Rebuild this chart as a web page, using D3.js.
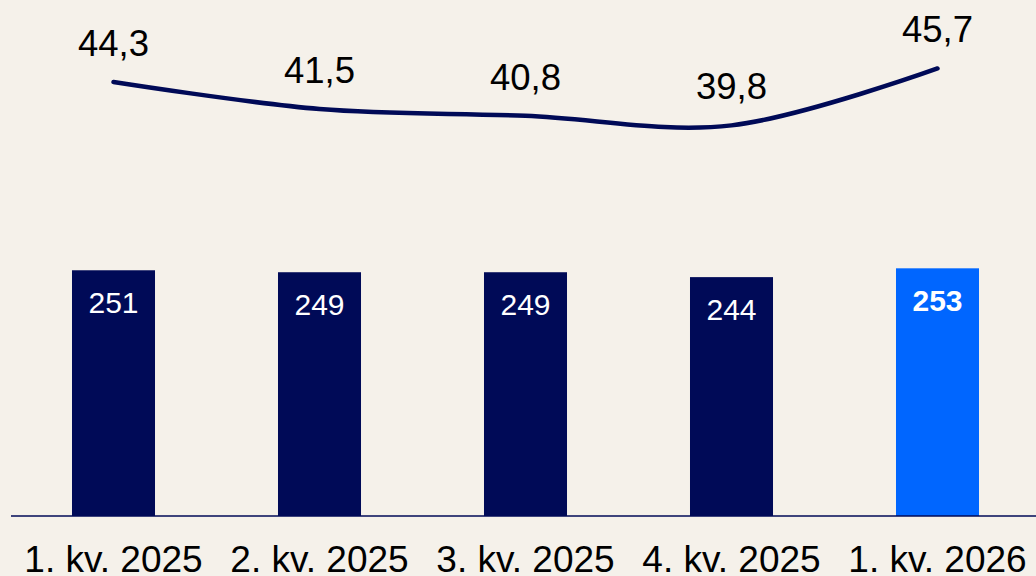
<html>
<head>
<meta charset="utf-8">
<script src="https://d3js.org/d3.v7.min.js"></script>
<style>
  body { margin: 0; background: #f5f1ea; }
  svg text { font-family: "Liberation Sans", Arial, sans-serif; }
</style>
</head>
<body>
<div id="chart"></div>
<script>
var categories = ["1. kv. 2025", "2. kv. 2025", "3. kv. 2025", "4. kv. 2025", "1. kv. 2026"]
var barValues = [251, 249, 249, 244, 253]
var lineValues = [44.3, 41.5, 40.8, 39.8, 45.7]
var barLabels = ["251", "249", "249", "244", "253"]
var lineLabels = ["44,3", "41,5", "40,8", "39,8", "45,7"]

var width = 1036
var height = 576
var navy = "#000a57"
var blue = "#0066ff"

var svg = d3.select("#chart").append("svg")
  .attr("width", width)
  .attr("height", height)
  .style("background-color", "#f5f1ea")

var x = d3.scaleBand()
  .domain(categories)
  .range([10.5, 1040.5])
  .paddingInner(0.597)
  .paddingOuter(0.2985)

var yBar = d3.scaleLinear().domain([0, 500]).range([516, 26.5])
var yLine = d3.scaleLinear().domain([30, 48]).range([219.9, 46.3])

// bars
svg.selectAll("rect.bar")
  .data(categories)
  .enter().append("rect")
  .attr("class", "bar")
  .attr("x", function(d) { return x(d) })
  .attr("width", x.bandwidth())
  .attr("y", function(d, i) { return yBar(barValues[i]) })
  .attr("height", function(d, i) { return yBar(0) - yBar(barValues[i]) })
  .attr("fill", function(d, i) { return i == categories.length - 1 ? blue : navy })

svg.selectAll("text.barlabel")
  .data(categories)
  .enter().append("text")
  .attr("class", "barlabel")
  .attr("x", function(d) { return x(d) + x.bandwidth() / 2 })
  .attr("y", function(d, i) { return yBar(barValues[i]) + 43 })
  .attr("text-anchor", "middle")
  .attr("fill", "#ffffff")
  .style("font-size", "30px")
  .style("font-weight", function(d, i) { return i == categories.length - 1 ? "bold" : "normal" })
  .text(function(d, i) { return barLabels[i] })

// baseline
svg.append("line")
  .attr("x1", 11).attr("x2", width)
  .attr("y1", yBar(0)).attr("y2", yBar(0))
  .attr("stroke", navy)
  .attr("stroke-width", 1.5)

// category labels
svg.selectAll("text.cat")
  .data(categories)
  .enter().append("text")
  .attr("class", "cat")
  .attr("x", function(d) { return x(d) + x.bandwidth() / 2 })
  .attr("y", 572)
  .attr("text-anchor", "middle")
  .attr("fill", "#000")
  .style("font-size", "37px")
  .text(function(d) { return d })

// line
var line = d3.line()
  .x(function(d, i) { return x(categories[i]) + x.bandwidth() / 2 })
  .y(function(d) { return yLine(d) })
  .curve(d3.curveCardinal.tension(0))

svg.append("path")
  .datum(lineValues)
  .attr("d", line)
  .attr("fill", "none")
  .attr("stroke", navy)
  .attr("stroke-width", 4.5)
  .attr("stroke-linecap", "round")

svg.selectAll("text.linelabel")
  .data(lineValues)
  .enter().append("text")
  .attr("class", "linelabel")
  .attr("x", function(d, i) { return x(categories[i]) + x.bandwidth() / 2 })
  .attr("y", function(d) { return yLine(d) - 26 })
  .attr("text-anchor", "middle")
  .attr("fill", "#000")
  .style("font-size", "36.5px")
  .text(function(d, i) { return lineLabels[i] })
</script>
</body>
</html>
